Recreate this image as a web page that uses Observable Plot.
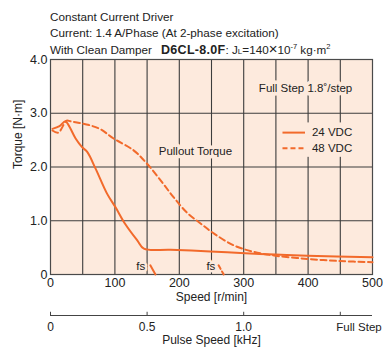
<!DOCTYPE html>
<html>
<head>
<meta charset="utf-8">
<script src="https://cdn.jsdelivr.net/npm/d3@7"></script>
<script src="https://cdn.jsdelivr.net/npm/@observablehq/plot@0.6"></script>
<style>
  html, body { margin: 0; padding: 0; background: #fff; }
  svg { display: block; }
</style>
</head>
<body>
<div id="chart"></div>
<script>
// ---- data ----
const speed24  = [3, 14, 23, 28, 39, 49, 57, 70, 88, 101, 116, 135, 145, 186, 248, 295, 349, 399, 500];
const torque24 = [2.71, 2.76, 2.85, 2.78, 2.53, 2.37, 2.28, 1.97, 1.50, 1.25, 0.94, 0.63, 0.48, 0.46, 0.43, 0.40, 0.37, 0.35, 0.32];
const speed48  = [3, 12, 25, 31, 45, 60, 78, 98, 129, 150, 171, 191, 212, 233, 254, 285, 316, 349, 399, 450, 500];
const torque48 = [2.68, 2.64, 2.86, 2.85, 2.82, 2.78, 2.70, 2.53, 2.31, 2.06, 1.75, 1.44, 1.15, 0.95, 0.76, 0.54, 0.42, 0.35, 0.29, 0.25, 0.23];
const fsSpeed24  = [155, 163];
const fsTorque24 = [0.17, 0.0];
const fsSpeed48  = [261, 269];
const fsTorque48 = [0.17, 0.0];

const speedTicks  = [0, 100, 200, 300, 400, 500];
const speedGrid   = [50, 100, 150, 200, 250, 300, 350, 400, 450];
const torqueTicks = [0, 1, 2, 3, 4];
const torqueTickLabels = ["0", "1.0", "2.0", "3.0", "4.0"];
const torqueGrid  = [1, 2, 3];
const pulseTicks  = [0, 150, 300, 450];          // positions on speed scale (1 kHz = 300 r/min)
const pulseTickLabels = ["0", "0.5", "1.0", "Full Step"];

const seriesNames = ["24 VDC", "48 VDC"];

const s24 = speed24.map((s, i) => ({speed: s, torque: torque24[i]}));
const s48 = speed48.map((s, i) => ({speed: s, torque: torque48[i]}));
const f24 = fsSpeed24.map((s, i) => ({speed: s, torque: fsTorque24[i]}));
const f48 = fsSpeed48.map((s, i) => ({speed: s, torque: fsTorque48[i]}));

const ORANGE = "#f26a2b";
const BG = "#fdeadd";
const GRID = "#3d3d3d";
const INK = "#222";
const FONT = "'Liberation Sans', Arial, sans-serif";
const dash = "6,3.5";

const chart = Plot.plot({
  width: 383,
  height: 349,
  marginTop: 59,
  marginLeft: 50,
  marginRight: 11,
  marginBottom: 75,
  style: {fontFamily: FONT, fontSize: "12px", color: INK, background: "#fff"},
  x: {domain: [0, 500]},
  y: {domain: [0, 4]},
  marks: [
    Plot.frame({fill: BG}),
    Plot.gridX(speedGrid, {stroke: GRID, strokeOpacity: 1, strokeWidth: 1.1}),
    Plot.gridY(torqueGrid, {stroke: GRID, strokeOpacity: 1, strokeWidth: 1.1}),
    Plot.frame({stroke: "#4a4a4a", strokeWidth: 1.2}),
    // annotation texts with background halo masking the grid
    Plot.text(["Full Step 1.8˚/step"], {x: 396, y: 3.47, fontSize: 11.5, stroke: BG, strokeWidth: 7, fill: INK}),
    Plot.text(["Pullout Torque"], {x: 225, y: 2.29, fontSize: 11.5, stroke: BG, strokeWidth: 7, fill: INK}),
    Plot.text(["fs"], {x: 140, y: 0.15, fontSize: 11.5, stroke: BG, strokeWidth: 5, fill: INK}),
    Plot.text(["fs"], {x: 249, y: 0.15, fontSize: 11.5, stroke: BG, strokeWidth: 5, fill: INK}),
    // legend
    Plot.rect([0], {x1: 357, x2: 475, y1: 2.18, y2: 2.82, fill: BG}),
    Plot.ruleY([2.64], {x1: 361, x2: 396, stroke: ORANGE, strokeWidth: 2}),
    Plot.ruleY([2.35], {x1: 361, x2: 396, stroke: ORANGE, strokeWidth: 2, strokeDasharray: "5,3"}),
    Plot.text([seriesNames[0]], {x: 406, y: 2.64, textAnchor: "start", fontSize: 11.5, fill: INK}),
    Plot.text([seriesNames[1]], {x: 406, y: 2.35, textAnchor: "start", fontSize: 11.5, fill: INK}),
    // curves
    Plot.line(s48, {x: "speed", y: "torque", stroke: ORANGE, strokeWidth: 2, strokeDasharray: dash, curve: "catmull-rom"}),
    Plot.line(s24, {x: "speed", y: "torque", stroke: ORANGE, strokeWidth: 2, curve: "catmull-rom"}),
    Plot.line(f24, {x: "speed", y: "torque", stroke: ORANGE, strokeWidth: 2}),
    Plot.line(f48, {x: "speed", y: "torque", stroke: ORANGE, strokeWidth: 2, strokeDasharray: "4,3"}),
    // axes
    Plot.axisX(speedTicks, {tickSize: 0, tickPadding: 4, label: null, fontSize: 12.5}),
    Plot.axisY(torqueTicks, {tickSize: 0, tickPadding: 3, label: null, fontSize: 12.5, tickFormat: d => torqueTickLabels[torqueTicks.indexOf(d)]}),
    Plot.text(["Speed [r/min]"], {frameAnchor: "bottom", dy: 26, fontSize: 12, fill: INK}),
    Plot.text(["Torque [N·m]"], {frameAnchor: "left", dx: -32, dy: 2, rotate: -90, fontSize: 12, fill: INK}),
    // pulse speed axis
    Plot.ruleY([0], {dy: 41, stroke: "#444", strokeWidth: 1}),
    Plot.ruleX(pulseTicks, {y1: 0, y2: 0.06, dy: 41, stroke: "#444", strokeWidth: 1}),
    Plot.text(pulseTicks.slice(0, 3), {x: d => d, y: 0, dy: 52.5, text: (d, i) => pulseTickLabels[i], fontSize: 12, fill: INK}),
    Plot.text(pulseTicks.slice(3), {x: d => d, y: 0, dy: 52.5, dx: -4, textAnchor: "start", text: d => pulseTickLabels[3], fontSize: 11.5, fill: INK}),
    Plot.text(["Pulse Speed [kHz]"], {frameAnchor: "bottom", dy: 69, fontSize: 12, fill: INK})
  ]
});

document.getElementById("chart").appendChild(chart);

// ---- header text lines ----
const svg = d3.select(chart);
const hdr = svg.append("g")
  .attr("font-family", FONT)
  .attr("font-size", 11.7)
  .attr("text-anchor", "start")
  .attr("fill", INK);
hdr.append("text").attr("x", 50).attr("y", 20.5).text("Constant Current Driver");
hdr.append("text").attr("x", 50).attr("y", 37).text("Current: 1.4 A/Phase (At 2-phase excitation)");
const l3 = hdr.append("text").attr("x", 50).attr("y", 53.5);
l3.append("tspan").text("With Clean Damper");
l3.append("tspan").attr("dx", 9).attr("font-weight", "bold").attr("font-size", 12.5).attr("letter-spacing", 0.3).text("D6CL-8.0F");
l3.append("tspan").text(": J");
l3.append("tspan").attr("font-size", 8).text("L");
l3.append("tspan").text("=140");
l3.append("tspan").attr("font-size", 15).attr("dy", 0.5).text("×");
l3.append("tspan").attr("dy", -0.5).text("10");
l3.append("tspan").attr("font-size", 7.5).attr("dy", -4.5).text("-7");
l3.append("tspan").attr("dy", 4.5).text(" kg·m");
l3.append("tspan").attr("font-size", 7.5).attr("dy", -4.5).text("2");
</script>
</body>
</html>
